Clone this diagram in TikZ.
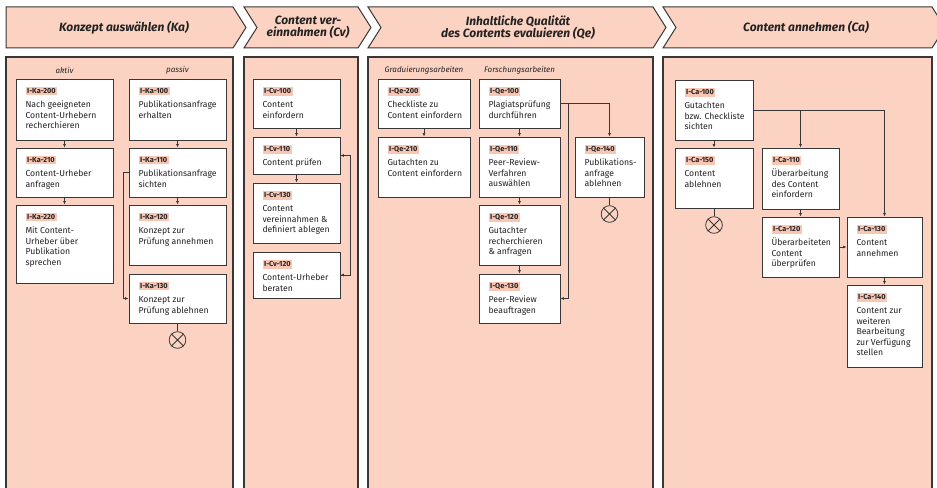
\documentclass[tikz,border=0pt]{standalone}
\usepackage{fontspec}
\setmainfont{Fira Sans}
\usetikzlibrary{arrows.meta,fit}

\definecolor{lanefill}{RGB}{252,211,194}
\definecolor{tagfill}{RGB}{249,198,179}
\definecolor{edgegray}{RGB}{55,55,55}
\definecolor{textgray}{RGB}{35,35,35}

\newcommand{\tagid}[1]{{\setlength{\fboxsep}{1.2pt}\colorbox{tagfill}{\fontsize{5.5}{5.5}\selectfont\bfseries #1}}}

\tikzset{every picture/.style={line width=0.75pt}}
\tikzset{
  phase/.style={draw=edgegray, fill=lanefill, line width=0.75pt},
  phasetext/.style={inner sep=0.75pt, align=center, text=textgray, font=\fontsize{9}{9.2}\selectfont\bfseries\itshape},
  lane/.style={draw=edgegray, fill=lanefill, line width=0.8pt},
  grouplabel/.style={inner sep=0.75pt, text=textgray, font=\fontsize{6}{7}\selectfont\itshape},
  card/.style={draw=edgegray, fill=white, inner sep=0pt, line width=0.7pt},
  cardtext/.style={anchor=north west, inner sep=0pt, align=left, text=textgray, font=\fontsize{6.5}{7.9}\selectfont},
  flow/.style={draw=edgegray, line width=0.55pt, -{Latex[length=2.6pt,width=2.2pt]}},
  plain/.style={draw=edgegray, line width=0.55pt},
  endevent/.style={draw=edgegray, circle, inner sep=0pt, minimum size=12.5pt, line width=0.6pt}
}

\begin{document}
\begin{tikzpicture}[x=0.75pt,y=0.75pt,yscale=-1,xscale=1]
		\useasboundingbox (0,0) rectangle (937,488);
		\clip (0,0) rectangle (937,488);

		%Shape: Chevrons 
		\draw[phase] (6,7) -- (233,7) -- (246,27.5) -- (233,48) -- (6,48) -- cycle;
		\draw[phase] (244,7) -- (358,7) -- (371,27.5) -- (358,48) -- (244,48) -- (257,27.5) -- cycle;
		\draw[phase] (368,7) -- (653,7) -- (666,27.5) -- (653,48) -- (368,48) -- (381,27.5) -- cycle;
		\draw[phase] (663,7) -- (932,7) -- (945,27.5) -- (932,48) -- (663,48) -- (676,27.5) -- cycle;

		% Text Node
		\node[phasetext] (ka-title) at (124,27.5) {Konzept auswählen (Ka)};
		% Text Node
		\node[phasetext] (cv-title) at (308,27.5) {Content ver-\\einnahmen (Cv)};
		% Text Node
		\node[phasetext] (qe-title) at (518,27.5) {Inhaltliche Qualität\\des Contents evaluieren (Qe)};
		% Text Node
		\node[phasetext] (ca-title) at (806,27.5) {Content annehmen (Ca)};

		%Shape: Lanes 
		\draw[lane] (6,57) rectangle (233,500);
		\draw[lane] (244,57) rectangle (358,500);
		\draw[lane] (368,57) rectangle (653,500);
		\draw[lane] (663,57) rectangle (932,500);

		% Text Node
		\node[grouplabel] (ka-aktiv) at (64.5,70) {aktiv};
		% Text Node
		\node[grouplabel] (ka-passiv) at (177.5,70) {passiv};
		% Text Node
		\node[grouplabel] (qe-grad) at (424,70) {Graduierungsarbeiten};
		% Text Node
		\node[grouplabel] (qe-forsch) at (519.5,70) {Forschungsarbeiten};

		%Konzept auswaehlen
		\node[card, fit={(16,79) (113,140)}] (ka200) {};
		\node[cardtext] (ka200-txt) at (25,86.5) {\tagid{I-Ka-200}\\[2.5pt]Nach geeigneten\\Content-Urhebern\\recherchieren};
		\node[card, fit={(16,148) (113,197)}] (ka210) {};
		\node[cardtext] (ka210-txt) at (25,155.5) {\tagid{I-Ka-210}\\[2.5pt]Content-Urheber\\anfragen};
		\node[card, fit={(16,205) (113,283)}] (ka220) {};
		\node[cardtext] (ka220-txt) at (25,212.5) {\tagid{I-Ka-220}\\[2.5pt]Mit Content-\\Urheber über\\Publikation\\sprechen};
		\node[card, fit={(129,79) (226,140)}] (ka100) {};
		\node[cardtext] (ka100-txt) at (138,86.5) {\tagid{I-Ka-100}\\[2.5pt]Publikationsanfrage\\erhalten};
		\node[card, fit={(129,148) (226,197)}] (ka110) {};
		\node[cardtext] (ka110-txt) at (138,155.5) {\tagid{I-Ka-110}\\[2.5pt]Publikationsanfrage\\sichten};
		\node[card, fit={(129,205) (226,265)}] (ka120) {};
		\node[cardtext] (ka120-txt) at (138,212.5) {\tagid{I-Ka-120}\\[2.5pt]Konzept zur\\Prüfung annehmen};
		\node[card, fit={(129,274) (226,323)}] (ka130) {};
		\node[cardtext] (ka130-txt) at (138,281.5) {\tagid{I-Ka-130}\\[2.5pt]Konzept zur\\Prüfung ablehnen};
		\node[endevent] (ka-end) at (177.5,340) {};
		\draw[plain] (ka-end.north west) -- (ka-end.south east) (ka-end.north east) -- (ka-end.south west);

		\draw[flow] (ka200) -- (ka210);
		\draw[flow] (ka210) -- (ka220);
		\draw[flow] (ka100) -- (ka110);
		\draw[flow] (ka110) -- (ka120);
		\draw[flow] (ka110.west) -- ++(-5,0) |- (ka130.west);
		\draw[plain] (ka130) -- (ka-end);

		%Content vereinnahmen
		\node[card, fit={(253,79) (340,128)}] (cv100) {};
		\node[cardtext] (cv100-txt) at (262,86.5) {\tagid{I-Cv-100}\\[2.5pt]Content\\einfordern};
		\node[card, fit={(253,137) (340,174)}] (cv110) {};
		\node[cardtext] (cv110-txt) at (262,144.5) {\tagid{I-Cv-110}\\[2.5pt]Content prüfen};
		\node[card, fit={(253,183) (340,243)}] (cv130) {};
		\node[cardtext] (cv130-txt) at (262,190.5) {\tagid{I-Cv-130}\\[2.5pt]Content\\vereinnahmen \&\\definiert ablegen};
		\node[card, fit={(253,252) (340,298)}] (cv120) {};
		\node[cardtext] (cv120-txt) at (262,259.5) {\tagid{I-Cv-120}\\[2.5pt]Content-Urheber\\beraten};

		\draw[flow] (cv100) -- (cv110);
		\draw[flow] (cv110) -- (cv130);
		\draw[flow] (cv120.east) -- ++(10,0) |- (cv110.east);
		\draw[flow] (cv110.east) -- ++(10,0) |- (cv120.east);

		%Qualitaet evaluieren
		\node[card, fit={(378,79) (470,128)}] (qe200) {};
		\node[cardtext] (qe200-txt) at (387,86.5) {\tagid{I-Qe-200}\\[2.5pt]Checkliste zu\\Content einfordern};
		\node[card, fit={(378,137) (470,197)}] (qe210) {};
		\node[cardtext] (qe210-txt) at (387,144.5) {\tagid{I-Qe-210}\\[2.5pt]Gutachten zu\\Content einfordern};
		\node[card, fit={(479,79) (560,128)}] (qe100) {};
		\node[cardtext] (qe100-txt) at (488,86.5) {\tagid{I-Qe-100}\\[2.5pt]Plagiatsprüfung\\durchführen};
		\node[card, fit={(479,137) (560,197)}] (qe110) {};
		\node[cardtext] (qe110-txt) at (488,144.5) {\tagid{I-Qe-110}\\[2.5pt]Peer-Review-\\Verfahren\\auswählen};
		\node[card, fit={(479,205) (560,265)}] (qe120) {};
		\node[cardtext] (qe120-txt) at (488,212.5) {\tagid{I-Qe-120}\\[2.5pt]Gutachter\\recherchieren\\\& anfragen};
		\node[card, fit={(479,274) (560,323)}] (qe130) {};
		\node[cardtext] (qe130-txt) at (488,281.5) {\tagid{I-Qe-130}\\[2.5pt]Peer-Review\\beauftragen};
		\node[card, fit={(575,137) (644,197)}] (qe140) {};
		\node[cardtext] (qe140-txt) at (584,144.5) {\tagid{I-Qe-140}\\[2.5pt]Publikations-\\anfrage\\ablehnen};
		\node[endevent] (qe-end) at (609.5,214) {};
		\draw[plain] (qe-end.north west) -- (qe-end.south east) (qe-end.north east) -- (qe-end.south west);

		\draw[flow] (qe200) -- (qe210);
		\draw[flow] (qe100) -- (qe110);
		\draw[flow] (qe110) -- (qe120);
		\draw[flow] (qe120) -- (qe130);
		\draw[flow] (qe100.east) -| (qe140.north);
		\draw[flow] (qe100.east) -- ++(8,0) |- (qe130.east);
		\draw[plain] (qe140) -- (qe-end);

		%Content annehmen
		\node[card, fit={(675,80) (753,140)}] (ca100) {};
		\node[cardtext] (ca100-txt) at (684,87.5) {\tagid{I-Ca-100}\\[2.5pt]Gutachten\\bzw. Checkliste\\sichten};
		\node[card, fit={(675,148) (753,208)}] (ca150) {};
		\node[cardtext] (ca150-txt) at (684,155.5) {\tagid{I-Ca-150}\\[2.5pt]Content\\ablehnen};
		\node[card, fit={(762,148) (839,209)}] (ca110) {};
		\node[cardtext] (ca110-txt) at (771,155.5) {\tagid{I-Ca-110}\\[2.5pt]Überarbeitung\\des Content\\einfordern};
		\node[card, fit={(762,217) (839,277)}] (ca120) {};
		\node[cardtext] (ca120-txt) at (771,224.5) {\tagid{I-Ca-120}\\[2.5pt]Überarbeiteten\\Content\\überprüfen};
		\node[card, fit={(847,217) (922,277)}] (ca130) {};
		\node[cardtext] (ca130-txt) at (856,224.5) {\tagid{I-Ca-130}\\[2.5pt]Content\\annehmen};
		\node[card, fit={(847,285) (922,367)}] (ca140) {};
		\node[cardtext] (ca140-txt) at (856,292.5) {\tagid{I-Ca-140}\\[2.5pt]Content zur\\weiteren\\Bearbeitung\\zur Verfügung\\stellen};
		\node[endevent] (ca-end) at (714,225) {};
		\draw[plain] (ca-end.north west) -- (ca-end.south east) (ca-end.north east) -- (ca-end.south west);

		\draw[flow] (ca100) -- (ca150);
		\draw[flow] (ca100.east) -| (ca110.north);
		\draw[flow] (ca100.east) -| (ca130.north);
		\draw[flow] (ca110) -- (ca120);
		\draw[flow] (ca120) -- (ca130);
		\draw[flow] (ca130) -- (ca140);
		\draw[plain] (ca150) -- (ca-end);

		\end{tikzpicture}
\end{document}
